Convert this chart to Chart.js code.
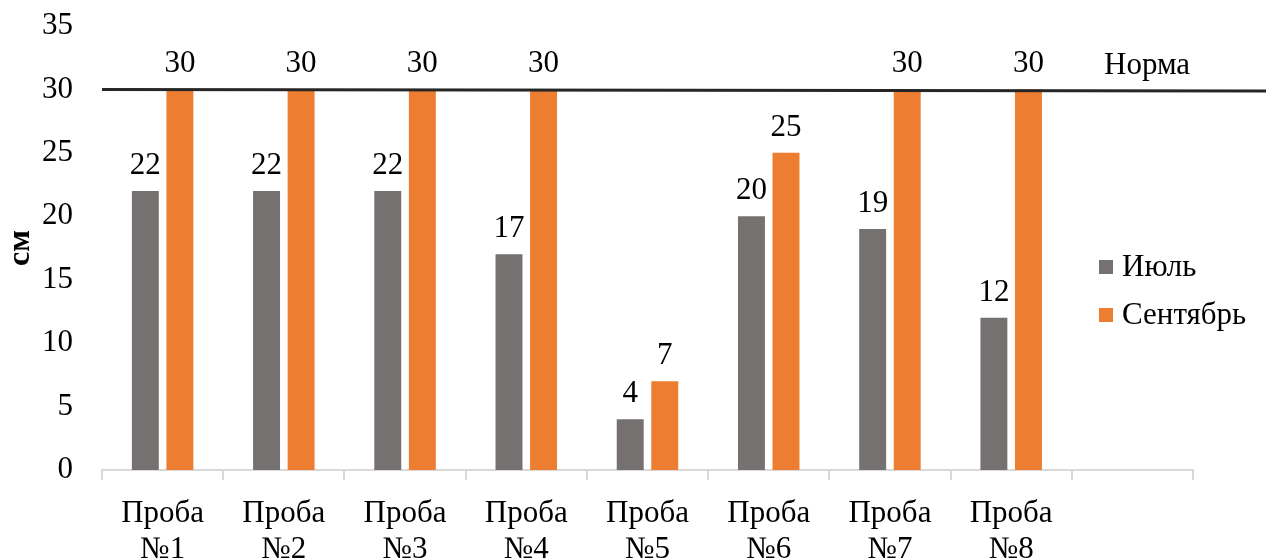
<!DOCTYPE html>
<html>
<head>
<meta charset="utf-8">
<script src="https://cdn.jsdelivr.net/npm/chart.js@4/dist/chart.umd.min.js"></script>
<style>
  html, body { margin: 0; padding: 0; background: #fff; }
  #wrap { width: 1266px; height: 558px; position: relative; }
</style>
</head>
<body>
<div id="wrap"><canvas id="c" width="1266" height="558"></canvas></div>
<script>
// Categories (the last slot is left empty on purpose)
const categories = [
  ['Проба', '№1'], ['Проба', '№2'], ['Проба', '№3'], ['Проба', '№4'],
  ['Проба', '№5'], ['Проба', '№6'], ['Проба', '№7'], ['Проба', '№8'], ['']
];
const julyValues = [22, 22, 22, 17, 4, 20, 19, 12];
const septemberValues = [30, 30, 30, 30, 7, 25, 30, 30];
const seriesNames = ['Июль', 'Сентябрь'];
const normValue = 30;
const normLabel = 'Норма';
const yTicks = [0, 5, 10, 15, 20, 25, 30, 35];
const yTitle = 'см';

const FONT = '"Liberation Serif", "Times New Roman", serif';
const GRAY = '#767171';
const ORANGE = '#ED7D31';
const FS = 31;

// Horizontal norm line with its caption
const normPlugin = {
  id: 'normLine',
  afterDatasetsDraw(chart) {
    const { ctx, chartArea, scales } = chart;
    const y = scales.y.getPixelForValue(normValue);
    ctx.save();
    ctx.strokeStyle = '#262626';
    ctx.lineWidth = 3;
    ctx.beginPath();
    ctx.moveTo(chartArea.left, y);
    ctx.lineTo(chart.width, y + 1.5);
    ctx.stroke();
    ctx.fillStyle = '#000';
    ctx.font = FS + 'px ' + FONT;
    ctx.textAlign = 'left';
    ctx.textBaseline = 'alphabetic';
    ctx.fillText(normLabel, 1104, y - 15.5);
    ctx.restore();
  }
};

// Value labels above each bar
const valueLabels = {
  id: 'valueLabels',
  afterDatasetsDraw(chart) {
    const { ctx } = chart;
    ctx.save();
    ctx.fillStyle = '#000';
    ctx.font = FS + 'px ' + FONT;
    ctx.textAlign = 'center';
    ctx.textBaseline = 'alphabetic';
    chart.data.datasets.forEach((ds, i) => {
      chart.getDatasetMeta(i).data.forEach((bar, j) => {
        const v = ds.data[j];
        if (v == null) return;
        ctx.fillText(String(v), bar.x, bar.y - 17);
      });
    });
    ctx.restore();
  }
};

// Legend drawn to the right of the plot
const sideLegend = {
  id: 'sideLegend',
  afterDraw(chart) {
    const { ctx } = chart;
    ctx.save();
    ctx.font = FS + 'px ' + FONT;
    ctx.textAlign = 'left';
    ctx.textBaseline = 'alphabetic';
    chart.data.datasets.forEach((ds, i) => {
      const cy = 267 + i * 48;
      ctx.fillStyle = ds.backgroundColor;
      ctx.fillRect(1099, cy - 7, 14, 14);
      ctx.fillStyle = '#000';
      ctx.fillText(ds.label, 1122, cy + 8.5);
    });
    ctx.restore();
  }
};

new Chart(document.getElementById('c'), {
  type: 'bar',
  data: {
    labels: categories,
    datasets: [
      { label: seriesNames[0], data: julyValues, backgroundColor: GRAY,
        categoryPercentage: 0.57, barPercentage: 0.78 },
      { label: seriesNames[1], data: septemberValues, backgroundColor: ORANGE,
        categoryPercentage: 0.57, barPercentage: 0.78 }
    ]
  },
  options: {
    responsive: false,
    animation: false,
    devicePixelRatio: 1,
    layout: { padding: { top: 26, right: 73, left: 0, bottom: 0 } },
    plugins: {
      legend: { display: false },
      title: { display: false },
      tooltip: { enabled: false }
    },
    scales: {
      x: {
        afterFit(scale) {
          scale.height = 88;
          scale.paddingLeft = 0; scale.paddingRight = 0;
        },
        grid: {
          display: true, drawOnChartArea: false, drawTicks: true,
          tickLength: 10, color: '#d9d9d9', lineWidth: 2, offset: true
        },
        border: { display: true, color: '#d9d9d9', width: 2 },
        ticks: {
          color: '#000', padding: 16, maxRotation: 0, autoSkip: false,
          font: { family: FONT, size: FS, lineHeight: 1.15 }
        }
      },
      y: {
        min: 0, max: 35,
        afterFit(scale) {
          scale.width = 102;
          scale.paddingTop = 0; scale.paddingBottom = 0;
        },
        afterBuildTicks(scale) { scale.ticks = yTicks.map(v => ({ value: v })); },
        grid: { display: false, drawTicks: false },
        border: { display: false },
        ticks: {
          color: '#000', padding: 29,
          font: { family: FONT, size: FS }
        },
        title: {
          display: true, text: yTitle, color: '#000',
          font: { family: FONT, size: 32, weight: 'bold' },
          padding: { top: 2, bottom: 0 }
        }
      }
    }
  },
  plugins: [normPlugin, valueLabels, sideLegend]
});
</script>
</body>
</html>
